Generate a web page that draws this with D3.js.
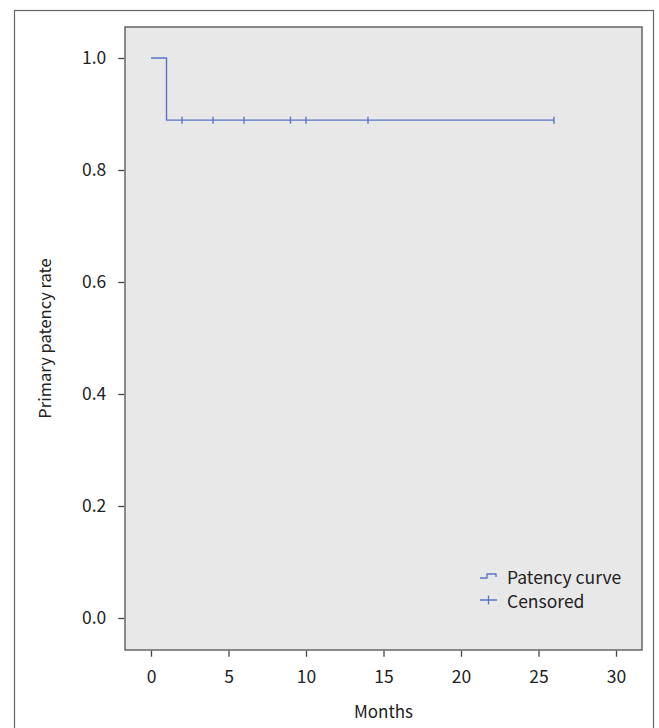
<!DOCTYPE html>
<html>
<head>
<meta charset="utf-8">
<script src="https://cdn.jsdelivr.net/npm/d3@7"></script>
<style>
  html, body { margin: 0; padding: 0; background: #fff; }
  svg { display: block; font-family: "Noto Sans CJK KR", "Noto Sans", sans-serif; }
</style>
</head>
<body>
<div id="chart"></div>
<script>
// Kaplan-Meier step points (months, survival)
const stepMonths = [0, 1, 26];
const stepRates = [1.0, 0.889, 0.889];
// censored observations
const censorMonths = [2, 4, 6, 9, 10, 14, 26];
const censorRates = [0.889, 0.889, 0.889, 0.889, 0.889, 0.889, 0.889];

const xTicks = [0, 5, 10, 15, 20, 25, 30];
const yTicks = [0, 0.2, 0.4, 0.6, 0.8, 1.0];
const legendLabels = ["Patency curve", "Censored"];

const W = 659, H = 728;
const lineColor = "#5b73c4";
const panel = { left: 125, top: 27, right: 642, bottom: 650 };

const svg = d3.select("#chart").append("svg")
  .attr("width", W).attr("height", H);

// outer frame (runs past the bottom edge)
svg.append("rect")
  .attr("x", 14.5).attr("y", 10.5)
  .attr("width", 639).attr("height", 740)
  .attr("fill", "none")
  .attr("stroke", "#666")
  .attr("stroke-width", 1.2);

const x = d3.scaleLinear().domain([0, 30]).range([151, 616]);
const y = d3.scaleLinear().domain([0, 1]).range([618, 58]);

// panel
svg.append("rect")
  .attr("x", panel.left).attr("y", panel.top)
  .attr("width", panel.right - panel.left)
  .attr("height", panel.bottom - panel.top)
  .attr("fill", "#e8e8e8")
  .attr("stroke", "#666")
  .attr("stroke-width", 1.5);

// axes
const xAxis = svg.append("g")
  .attr("transform", `translate(0,${panel.bottom + 0.75})`)
  .call(d3.axisBottom(x).tickValues(xTicks).tickSize(6).tickPadding(14).tickFormat(d3.format("d")));
const yAxis = svg.append("g")
  .attr("transform", `translate(${panel.left - 0.75},0)`)
  .call(d3.axisLeft(y).tickValues(yTicks).tickSize(6).tickPadding(12).tickFormat(d3.format(".1f")));

[xAxis, yAxis].forEach(a => {
  a.select(".domain").remove();
  a.selectAll("line").attr("stroke", "#444").attr("stroke-width", 1.3);
  a.selectAll("text")
    .attr("fill", "#222")
    .style("font-size", "17.5px")
    .style("font-family", "\"Noto Sans CJK KR\", \"Noto Sans\", sans-serif");
});

// axis titles
svg.append("text")
  .attr("x", (panel.left + panel.right) / 2)
  .attr("y", 718)
  .attr("text-anchor", "middle")
  .attr("fill", "#222")
  .style("font-size", "17px")
  .text("Months");

svg.append("text")
  .attr("transform", `translate(51,${(panel.top + panel.bottom) / 2}) rotate(-90)`)
  .attr("text-anchor", "middle")
  .attr("fill", "#222")
  .style("font-size", "16.5px")
  .text("Primary patency rate");

// survival curve
const pts = stepMonths.map((m, i) => [m, stepRates[i]]);
svg.append("path")
  .datum(pts)
  .attr("fill", "none")
  .attr("stroke", lineColor)
  .attr("stroke-width", 1.4)
  .attr("d", d3.line().x(d => x(d[0])).y(d => y(d[1])).curve(d3.curveStepAfter));

// censor marks
svg.append("g")
  .selectAll("line")
  .data(censorMonths.map((m, i) => [m, censorRates[i]]))
  .join("line")
  .attr("x1", d => x(d[0])).attr("x2", d => x(d[0]))
  .attr("y1", d => y(d[1]) - 3.5).attr("y2", d => y(d[1]) + 3.5)
  .attr("stroke", lineColor)
  .attr("stroke-width", 1.4);

// legend
const lg = svg.append("g").attr("transform", "translate(480,0)");
lg.append("path")
  .attr("d", "M0,578 H7 V574 H16 V577")
  .attr("fill", "none")
  .attr("stroke", lineColor)
  .attr("stroke-width", 1.3);
lg.append("path")
  .attr("d", "M0,600 H17 M8.5,595.5 V604.5")
  .attr("fill", "none")
  .attr("stroke", lineColor)
  .attr("stroke-width", 1.3);
lg.selectAll("text.lab")
  .data(legendLabels)
  .join("text")
  .attr("class", "lab")
  .attr("x", 27)
  .attr("y", (d, i) => 584 + i * 24)
  .attr("fill", "#222")
  .style("font-size", "17.5px")
  .text(d => d);
</script>
</body>
</html>
